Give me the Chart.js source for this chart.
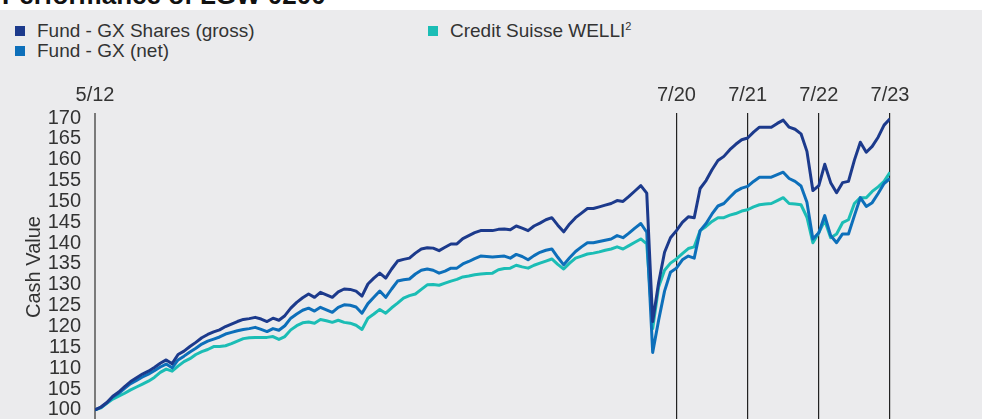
<!DOCTYPE html>
<html>
<head>
<meta charset="utf-8">
<script src="https://cdn.jsdelivr.net/npm/chart.js@4.4.0/dist/chart.umd.min.js"></script>
<style>
  body { margin: 0; background: #fff; font-family: "Liberation Sans", Arial, sans-serif; }
  #wrap { position: absolute; left: 0; top: 0; width: 982px; height: 419px; overflow: hidden; }
  #panel { position: absolute; left: 0; top: 10px; width: 982px; height: 409px; background: #ebebed; }
  #title { position: absolute; left: 2px; top: -20px; font-size: 26px; font-weight: bold; color: #111; white-space: nowrap; }
  #chartBox { position: absolute; left: 0; top: 0; width: 982px; height: 447px; }
  .legend { position: absolute; font-size: 19px; color: #333; white-space: nowrap; }
  .legend span.sw { display: inline-block; width: 10px; height: 10px; margin-right: 12px; vertical-align: 1px; }
  .legend sup { font-size: 11px; }
</style>
</head>
<body>
<div id="wrap">
  <div id="title">Performance of LGW 0200</div>
  <div id="panel"></div>
  <div class="legend" style="left:15px; top:20px;"><span class="sw" style="background:#1c3a8c"></span>Fund - GX Shares (gross)</div>
  <div class="legend" style="left:15px; top:40px;"><span class="sw" style="background:#0d6fba"></span>Fund - GX (net)</div>
  <div class="legend" style="left:428px; top:20px;"><span class="sw" style="background:#1bbdb5"></span>Credit Suisse WELLI<sup>2</sup></div>
  <div id="chartBox"><canvas id="perfChart"></canvas></div>
</div>
<script>
// monthly values, May 2012 (index 0) to July 2023 (index 134)
const grossValues = [
  100, 100.7, 101.8, 103.3, 104.3, 105.6, 106.8, 107.7, 108.6, 109.3,
  110.2, 111.2, 112.0, 111.1, 113.3, 114.1, 115.2, 116.2, 117.3, 118.1,
  118.7, 119.2, 120.0, 120.6, 121.2, 121.7, 121.9, 122.2, 121.8, 121.2,
  122.0, 121.5, 122.6, 124.4, 125.8, 126.9, 127.8, 127.0, 128.2, 127.6,
  127.0, 128.3, 129.0, 128.9, 128.5, 127.3, 130.2, 131.6, 132.8, 131.6,
  133.8, 135.7, 136.1, 136.4, 137.6, 138.6, 138.9, 138.8, 138.2, 139.0,
  139.8, 139.8, 141.1, 141.8, 142.5, 143.0, 143.0, 143.0, 143.3, 143.4,
  143.2, 144.1, 143.6, 143.0, 144.1, 144.8, 145.6, 146.1, 144.3, 142.7,
  144.6, 146.1, 147.2, 148.3, 148.3, 148.7, 149.1, 149.5, 150.2, 150.0,
  151.2, 152.5, 153.8, 152.0, 121.2, 130.5, 137.8, 141.3, 143.0, 145.0,
  146.3, 146.1, 153.1, 155.0, 157.6, 159.8, 160.8, 162.4, 163.7, 164.8,
  165.2, 166.6, 167.8, 167.8, 167.8, 168.7, 169.5, 167.8, 167.3, 166.2,
  162.0, 152.6, 153.8, 158.9, 154.5, 152.1, 154.5, 154.8, 159.9, 164.2,
  161.8, 163.2, 165.4, 168.3, 169.8
];
const netValues = [
  100, 100.6, 101.7, 103.1, 104.0, 105.2, 106.3, 107.1, 107.9, 108.6,
  109.4, 110.3, 111.0, 110.1, 112.0, 112.9, 113.9, 114.8, 115.8, 116.5,
  117.0, 117.5, 118.2, 118.6, 119.0, 119.3, 119.5, 119.8, 119.3, 118.8,
  119.5, 119.1, 120.2, 122.0, 123.0, 123.9, 124.4, 123.7, 124.6, 124.0,
  123.4, 124.6, 125.2, 125.1, 124.7, 123.2, 125.5, 127.0, 128.5, 127.0,
  129.0, 130.9, 131.2, 131.4, 132.6, 133.5, 133.8, 133.5, 132.8, 133.3,
  134.0, 134.0, 135.0, 135.6, 136.3, 136.9, 136.8, 136.7, 136.8, 136.9,
  136.4, 137.3, 136.8, 136.0, 137.0, 137.8, 138.3, 138.6, 136.6, 134.8,
  136.5, 138.0, 139.1, 140.1, 140.1, 140.4, 140.7, 141.0, 141.8, 141.3,
  142.4, 143.6, 144.7, 142.6, 113.8, 121.5, 128.5, 133.0, 134.0, 136.0,
  136.9, 136.4, 143.0, 144.7, 147.0, 148.9, 149.5, 151.0, 152.4, 153.2,
  153.6, 154.8, 155.8, 155.8, 155.8, 156.4, 157.0, 155.5, 154.8, 153.7,
  149.8, 141.0, 142.5, 146.6, 141.8, 140.1, 142.2, 142.2, 146.6, 150.9,
  148.8, 149.7, 151.9, 154.3, 155.5
];
const welliValues = [
  100, 100.5, 101.6, 102.6, 103.3, 104.0, 104.8, 105.5, 106.2, 106.9,
  107.8, 109.0, 109.8, 109.3, 110.5, 111.6, 112.3, 113.3, 114.0, 114.5,
  115.2, 115.2, 115.4, 115.9, 116.5, 117.1, 117.3, 117.4, 117.4, 117.4,
  117.6, 116.9, 117.6, 119.2, 120.2, 120.9, 121.1, 120.8, 121.7, 121.4,
  121.0, 121.5, 121.0, 120.8, 120.3, 119.3, 122.0, 123.0, 124.1, 123.2,
  124.5, 125.6, 126.8, 127.4, 127.8, 128.9, 130.0, 130.1, 129.9, 130.4,
  130.9, 131.3, 131.9, 132.1, 132.4, 132.6, 132.7, 132.8, 133.6, 133.9,
  134.0, 134.7, 134.3, 134.0, 134.7, 135.2, 135.7, 136.2, 134.9, 133.8,
  135.2, 136.4, 136.9, 137.4, 137.6, 137.9, 138.3, 138.6, 139.1, 138.6,
  139.4, 140.2, 141.0, 139.8, 119.5, 129.5, 133.5, 135.2, 136.2, 137.5,
  138.7, 139.1, 143.0, 144.0, 145.2, 146.1, 146.1, 146.7, 147.1, 147.7,
  148.0, 148.7, 149.2, 149.4, 149.5, 150.2, 150.9, 149.5, 149.4, 149.2,
  146.2, 140.1, 142.5, 145.4, 141.3, 142.2, 144.9, 145.6, 149.5, 150.9,
  150.9, 152.4, 153.5, 154.8, 157.0
];
const tickMonths = [0, 98, 110, 122, 134];
const tickLabels = ["5/12", "7/20", "7/21", "7/22", "7/23"];
const yTicks = [100, 105, 110, 115, 120, 125, 130, 135, 140, 145, 150, 155, 160, 165, 170];

const toPoints = (arr) => arr.map((v, i) => ({ x: i, y: v }));
const txtColor = "#333";
const fontFamily = "'Liberation Sans', Arial, sans-serif";

const ctx = document.getElementById("perfChart");
new Chart(ctx, {
    type: "line",
    data: {
        datasets: [
            { label: "Fund - GX Shares (gross)", data: toPoints(grossValues), borderColor: "#1c3a8c", borderWidth: 3 },
            { label: "Fund - GX (net)", data: toPoints(netValues), borderColor: "#0d6fba", borderWidth: 3 },
            { label: "Credit Suisse WELLI", data: toPoints(welliValues), borderColor: "#1bbdb5", borderWidth: 3 },
        ],
    },
    options: {
        animation: false,
        responsive: true,
        maintainAspectRatio: false,
        elements: { point: { radius: 0 }, line: { tension: 0, borderJoinStyle: "round" } },
        layout: { padding: { left: 20, right: 92, top: 80, bottom: 0 } },
        plugins: { legend: { display: false }, tooltip: { enabled: false } },
        scales: {
            x: {
                type: "linear",
                position: "top",
                min: 0,
                max: 134,
                afterBuildTicks: (scale) => {
                    scale.ticks = tickMonths.map((v) => ({ value: v }));
                },
                afterFit: (scale) => { scale.height = 33; },
                ticks: {
                    autoSkip: false,
                    maxRotation: 0,
                    padding: 6,
                    color: txtColor,
                    font: { family: fontFamily, size: 20 },
                    callback: (value) => tickLabels[tickMonths.indexOf(value)],
                },
                grid: {
                    drawTicks: false,
                    color: (c) => (c.tick && c.tick.value === 0 ? "#7a7a7a" : "#222"),
                    lineWidth: (c) => (c.tick && c.tick.value === 0 ? 2 : 1.2),
                },
                border: { display: false },
            },
            y: {
                min: 97.35,
                max: 171.2,
                afterBuildTicks: (scale) => {
                    scale.ticks = yTicks.map((v) => ({ value: v }));
                },
                afterFit: (scale) => { scale.width = 75; },
                ticks: {
                    autoSkip: false,
                    padding: 14,
                    color: txtColor,
                    font: { family: fontFamily, size: 20 },
                },
                grid: { display: false, drawTicks: false },
                border: { display: false },
                title: {
                    display: true,
                    text: "Cash Value",
                    color: txtColor,
                    font: { family: fontFamily, size: 20 },
                    padding: { top: 2, bottom: 0 },
                },
            },
        },
    },
});
</script>
</body>
</html>
